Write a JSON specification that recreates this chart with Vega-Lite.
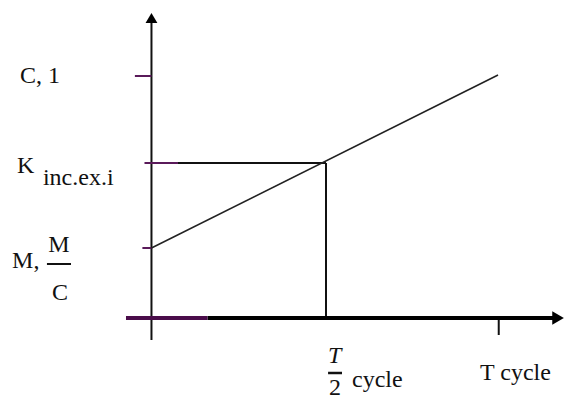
{
  "$schema": "https://vega.github.io/schema/vega-lite/v6.json",
  "width": 564,
  "height": 396,
  "padding": 0,
  "autosize": {"type": "none"},
  "background": "white",
  "config": {"view": {"stroke": null}, "text": {"font": "'Liberation Serif', 'Times New Roman', 'DejaVu Serif', serif"}},
  "datasets": {
    "segs": [
      {"part": "yaxis", "x": 0, "y": -0.22, "x2": 0, "y2": 3.0},
      {"part": "xaxis", "x": 0.321, "y": 0, "x2": 2.33, "y2": 0},
      {"part": "xaxisp", "x": -0.146, "y": 0, "x2": 0.321, "y2": 0},
      {"part": "tickp", "x": -0.095, "y": 2.42, "x2": 0, "y2": 2.42},
      {"part": "tickp", "x": -0.04, "y": 1.55, "x2": 0.152, "y2": 1.55},
      {"part": "tickp", "x": -0.052, "y": 0.70, "x2": 0, "y2": 0.70},
      {"part": "guide", "x": 0.152, "y": 1.55, "x2": 1, "y2": 1.55},
      {"part": "guide", "x": 1, "y": 0, "x2": 1, "y2": 1.55},
      {"part": "guide", "x": 1.99, "y": 0, "x2": 1.99, "y2": -0.17},
      {"part": "guide", "x": -0.599, "y": 0.54, "x2": -0.461, "y2": 0.54},
      {"part": "frac", "x": 1.012, "y": -0.55, "x2": 1.092, "y2": -0.55},
      {"part": "line", "x": 0, "y": 0.70, "x2": 1.986, "y2": 2.43}
    ],
    "arrows": [
      {"dir": "up", "x": 0, "y": 3.0},
      {"dir": "right", "x": 2.33, "y": 0}
    ],
    "labels": [
      {"t": "C, 1", "x": -0.753, "y": 2.35, "kind": "left"},
      {"t": "K", "x": -0.771, "y": 1.45, "kind": "left"},
      {"t": "inc.ex.i", "x": -0.622, "y": 1.33, "kind": "left"},
      {"t": "M,", "x": -0.799, "y": 0.50, "kind": "left"},
      {"t": "M", "x": -0.530, "y": 0.66, "kind": "center"},
      {"t": "C", "x": -0.524, "y": 0.18, "kind": "center"},
      {"t": "T", "x": 1.012, "y": -0.45, "kind": "italic"},
      {"t": "2", "x": 1.052, "y": -0.77, "kind": "center"},
      {"t": "cycle", "x": 1.149, "y": -0.69, "kind": "left"},
      {"t": "T cycle", "x": 1.883, "y": -0.62, "kind": "left"}
    ]
  },
  "layer": [
    {
      "data": {"name": "segs"},
      "transform": [{"filter": "datum.part === 'yaxis' || datum.part === 'guide'"}],
      "mark": {"type": "rule", "color": "#111111", "strokeWidth": 2},
      "encoding": {
        "x": {"field": "x", "type": "quantitative", "scale": {"domain": [-0.868, 2.364], "nice": false, "zero": false}, "axis": null},
        "y": {"field": "y", "type": "quantitative", "scale": {"domain": [-0.78, 3.18], "nice": false, "zero": false}, "axis": null},
        "x2": {"field": "x2"},
        "y2": {"field": "y2"}
      }
    },
    {
      "data": {"name": "segs"},
      "transform": [{"filter": "datum.part === 'frac'"}],
      "mark": {"type": "rule", "color": "#111111", "strokeWidth": 2.5},
      "encoding": {
        "x": {"field": "x", "type": "quantitative", "axis": null},
        "y": {"field": "y", "type": "quantitative", "axis": null},
        "x2": {"field": "x2"},
        "y2": {"field": "y2"}
      }
    },
    {
      "data": {"name": "segs"},
      "transform": [{"filter": "datum.part === 'xaxis'"}],
      "mark": {"type": "rule", "color": "#000000", "strokeWidth": 4},
      "encoding": {
        "x": {"field": "x", "type": "quantitative", "axis": null},
        "y": {"field": "y", "type": "quantitative", "axis": null},
        "x2": {"field": "x2"},
        "y2": {"field": "y2"}
      }
    },
    {
      "data": {"name": "segs"},
      "transform": [{"filter": "datum.part === 'xaxisp'"}],
      "mark": {"type": "rule", "color": "#4a0d4a", "strokeWidth": 4},
      "encoding": {
        "x": {"field": "x", "type": "quantitative", "axis": null},
        "y": {"field": "y", "type": "quantitative", "axis": null},
        "x2": {"field": "x2"},
        "y2": {"field": "y2"}
      }
    },
    {
      "data": {"name": "segs"},
      "transform": [{"filter": "datum.part === 'tickp'"}],
      "mark": {"type": "rule", "color": "#5a1a5a", "strokeWidth": 2},
      "encoding": {
        "x": {"field": "x", "type": "quantitative", "axis": null},
        "y": {"field": "y", "type": "quantitative", "axis": null},
        "x2": {"field": "x2"},
        "y2": {"field": "y2"}
      }
    },
    {
      "data": {"name": "segs"},
      "transform": [{"filter": "datum.part === 'line'"}],
      "mark": {"type": "rule", "color": "#222222", "strokeWidth": 1.6},
      "encoding": {
        "x": {"field": "x", "type": "quantitative", "axis": null},
        "y": {"field": "y", "type": "quantitative", "axis": null},
        "x2": {"field": "x2"},
        "y2": {"field": "y2"}
      }
    },
    {
      "data": {"name": "arrows"},
      "transform": [{"filter": "datum.dir === 'up'"}],
      "mark": {"type": "point", "filled": true, "color": "#000000", "opacity": 1, "shape": "triangle-up", "size": 140},
      "encoding": {
        "x": {"field": "x", "type": "quantitative", "axis": null},
        "y": {"field": "y", "type": "quantitative", "axis": null}
      }
    },
    {
      "data": {"name": "arrows"},
      "transform": [{"filter": "datum.dir === 'right'"}],
      "mark": {"type": "point", "filled": true, "color": "#000000", "opacity": 1, "shape": "triangle-right", "size": 180},
      "encoding": {
        "x": {"field": "x", "type": "quantitative", "axis": null},
        "y": {"field": "y", "type": "quantitative", "axis": null}
      }
    },
    {
      "data": {"name": "labels"},
      "transform": [{"filter": "datum.kind === 'left'"}],
      "mark": {"type": "text", "baseline": "alphabetic", "align": "left", "fontSize": 24, "color": "#111111"},
      "encoding": {
        "x": {"field": "x", "type": "quantitative", "axis": null},
        "y": {"field": "y", "type": "quantitative", "axis": null},
        "text": {"field": "t"}
      }
    },
    {
      "data": {"name": "labels"},
      "transform": [{"filter": "datum.kind === 'center'"}],
      "mark": {"type": "text", "baseline": "alphabetic", "align": "center", "fontSize": 24, "color": "#111111"},
      "encoding": {
        "x": {"field": "x", "type": "quantitative", "axis": null},
        "y": {"field": "y", "type": "quantitative", "axis": null},
        "text": {"field": "t"}
      }
    },
    {
      "data": {"name": "labels"},
      "transform": [{"filter": "datum.kind === 'italic'"}],
      "mark": {"type": "text", "baseline": "alphabetic", "align": "left", "fontStyle": "italic", "fontSize": 24, "color": "#111111"},
      "encoding": {
        "x": {"field": "x", "type": "quantitative", "axis": null},
        "y": {"field": "y", "type": "quantitative", "axis": null},
        "text": {"field": "t"}
      }
    }
  ]
}
